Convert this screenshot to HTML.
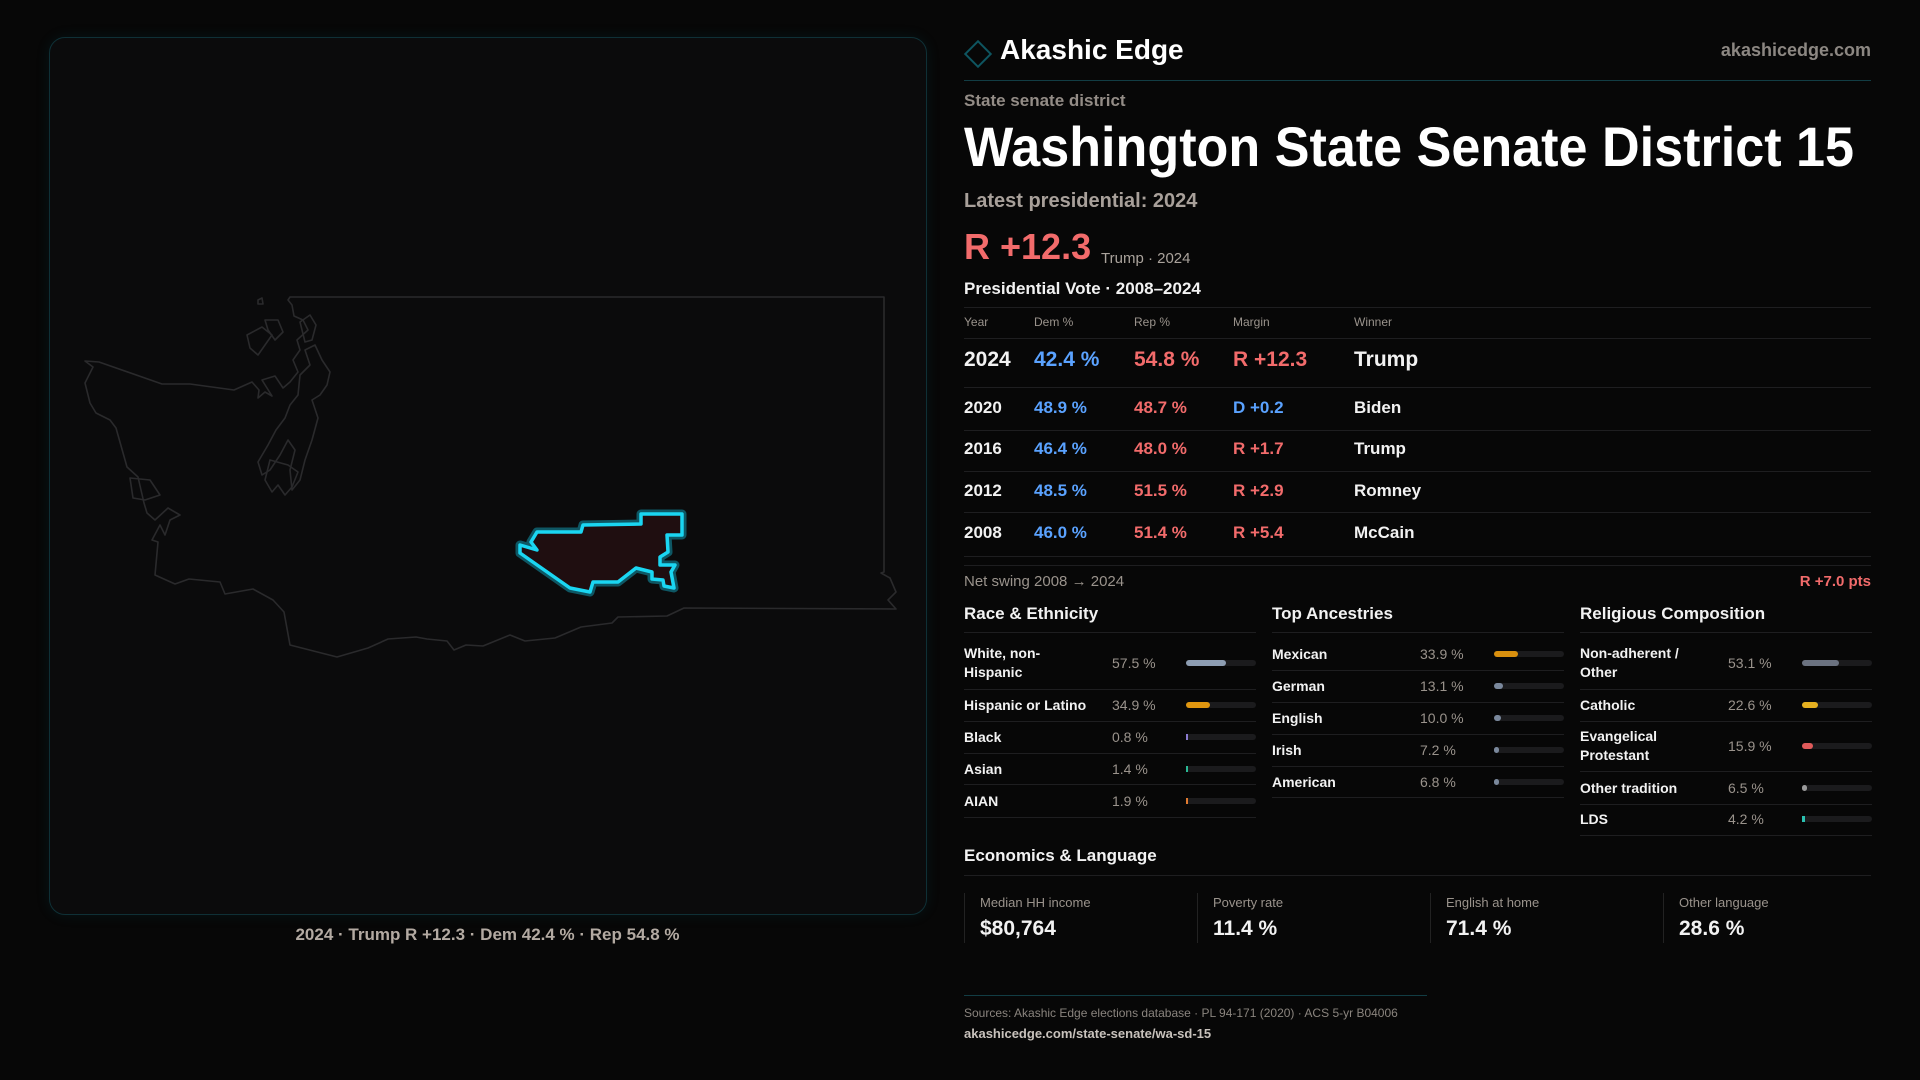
<!DOCTYPE html>
<html><head><meta charset="utf-8"><style>
*{margin:0;padding:0;box-sizing:border-box}
body{width:1920px;height:1080px;background:#070707;font-family:"Liberation Sans",sans-serif;color:#fff;position:relative;overflow:hidden}
.a{position:absolute;white-space:nowrap}
.g{color:#9a938c}
.w{color:#f2f2f2;font-weight:bold}
.r{color:#f26b6b}
.b{color:#5aa2ff}
.hl{position:absolute;height:1px;background:#1e1e20}
.card{position:absolute;top:893px;height:50px;border-left:1px solid #222}
</style></head><body>
<div class="a" style="left:49px;top:37px;width:878px;height:878px;border:1px solid #0f3036;border-radius:16px;background:#0b0b0c;box-shadow:0 0 14px rgba(20,120,140,0.12)">
<svg width="878" height="878" style="position:absolute;left:-1px;top:-1px">
<g transform="translate(-49,-37)" fill="none" stroke="#2a2a2c" stroke-width="1.6" stroke-linejoin="round">
<path d="M290,297 L884,297 L884,572 L881,573 L890,578 L896,592 L888,600 L896,609 L684,608 L667,616 L618,617 L612,623 L581,627 L555,638 L525,641 L510,635 L483,646 L466,645 L454,650 L447,641 L427,639 L416,637 L388,639 L368,648 L337,657 L290,645 L284,612 L273,600 L253,589 L225,594 L220,582 L189,579 L175,584 L155,575 L158,542 L152,540 L160,525 L165,535 L170,520 L180,515 L168,508 L155,520 L147,513 L144,503 L138,477 L127,467 L116,428 L110,420 L96,413 L90,403 L85,383 L93,367 L85,361 L99,362 L162,384 L190,384 L234,390 L252,382 L259,390 L258,398 L265,392 L272,396 L262,380 L275,376 L283,388 L290,382 L298,372 L293,360 L300,350 L297,340 L308,330 L303,320 L294,316 L292,305 L288,300 Z"/>
<path d="M300,375 L310,365 L305,350 L315,345 L322,360 L330,372 L327,385 L320,395 L312,400 L318,418 L312,440 L305,460 L300,480 L292,490 L290,470 L295,450 L288,440 L280,455 L270,470 L262,475 L258,462 L268,445 L276,430 L285,418 L290,405 L298,395 Z"/>
<path d="M270,460 L288,465 L298,472 L292,487 L285,495 L278,485 L272,492 L265,480 Z"/>
<path d="M247,335 L262,327 L272,335 L265,345 L258,355 L250,348 Z"/>
<path d="M265,320 L278,320 L283,332 L275,340 L268,330 Z"/>
<path d="M300,322 L310,315 L316,325 L312,340 L305,342 Z"/>
<path d="M130,478 L150,480 L160,495 L145,500 L133,498 Z"/>
<path d="M258,300 L262,298 L263,304 L258,304 Z"/>
</g>
<g transform="translate(-49,-37)">
<path d="M641,514 L682,514 L682,535 L667,535 L668,552 L660,557 L660,565 L675,565 L671,572 L674,588 L664,586 L663,580 L652,579 L652,572 L636,568 L618,582 L593,582 L590,592 L570,588 L520,553 L520,545 L537,550 L531,542 L537,532 L581,532 L583,525 L641,524 Z" fill="#1f0e10" stroke="#0f6b7a" stroke-width="9" stroke-linejoin="round" opacity="0.8"/>
<path d="M641,514 L682,514 L682,535 L667,535 L668,552 L660,557 L660,565 L675,565 L671,572 L674,588 L664,586 L663,580 L652,579 L652,572 L636,568 L618,582 L593,582 L590,592 L570,588 L520,553 L520,545 L537,550 L531,542 L537,532 L581,532 L583,525 L641,524 Z" fill="#1f0e10" stroke="#1ad6f2" stroke-width="3.5" stroke-linejoin="round"/>
</g></svg></div>
<div class="a" style="left:0;width:975px;text-align:center;top:925px;font-size:17px;color:#b3aaa2;font-weight:bold">2024 · Trump R +12.3 · Dem 42.4 % · Rep 54.8 %</div>

<div class="a" style="left:968px;top:44px;width:20px;height:20px;border:2px solid #0e5560;transform:rotate(45deg)"></div>
<div class="a" style="left:1000px;top:34px;font-size:28px;color:#fff;font-weight:bold">Akashic Edge</div>
<div class="a g" style="right:49px;top:40px;font-size:18px;font-weight:bold;color:#8c8782">akashicedge.com</div>
<div class="hl" style="left:964px;width:907px;top:80px;background:#123d44"></div>
<div class="a g" style="left:964px;top:91px;font-size:17px;font-weight:bold;color:#938c86">State senate district</div>
<svg class="a" style="left:964px;top:112px" width="900" height="66"><text x="0" y="54" font-family="Liberation Sans" font-weight="bold" font-size="56" fill="#fff" textLength="890" lengthAdjust="spacingAndGlyphs">Washington State Senate District 15</text></svg>
<div class="a g" style="left:964px;top:190px;font-size:20px;font-weight:bold;color:#a8a09a">Latest presidential: 2024</div>
<div class="a r" style="left:964px;top:226px;font-size:36px;font-weight:bold">R +12.3</div>
<div class="a" style="left:1101px;top:250px;font-size:15px;color:#aaa39c">Trump · 2024</div>
<div class="a w" style="left:964px;top:279px;font-size:17px">Presidential Vote · 2008–2024</div>
<div class="hl" style="left:964px;width:907px;top:307px"></div>
<div class="a g" style="left:964px;top:573px;font-size:15px">Net swing 2008 → 2024</div>
<div class="a r" style="right:49px;top:573px;font-size:15px;font-weight:bold">R +7.0 pts</div>

<div class="a w" style="left:964px;top:846px;font-size:17px">Economics &amp; Language</div>
<div class="hl" style="left:964px;width:907px;top:875px"></div>
<div class="card" style="left:964px;width:233px"><div class="a g" style="left:15px;top:2px;font-size:13px">Median HH income</div><div class="a w" style="left:15px;top:24px;font-size:21px">$80,764</div></div>
<div class="card" style="left:1197px;width:233px"><div class="a g" style="left:15px;top:2px;font-size:13px">Poverty rate</div><div class="a w" style="left:15px;top:24px;font-size:21px">11.4 %</div></div>
<div class="card" style="left:1430px;width:233px"><div class="a g" style="left:15px;top:2px;font-size:13px">English at home</div><div class="a w" style="left:15px;top:24px;font-size:21px">71.4 %</div></div>
<div class="card" style="left:1663px;width:208px"><div class="a g" style="left:15px;top:2px;font-size:13px">Other language</div><div class="a w" style="left:15px;top:24px;font-size:21px">28.6 %</div></div>
<div class="hl" style="left:964px;width:463px;top:995px;background:#123d44"></div>
<div class="a g" style="left:964px;top:1006px;font-size:12px;color:#8a847e">Sources: Akashic Edge elections database · PL 94-171 (2020) · ACS 5-yr B04006</div>
<div class="a" style="left:964px;top:1026px;font-size:13px;color:#c8c2bc;font-weight:bold">akashicedge.com/state-senate/wa-sd-15</div>

<script>
const years=["2024","2020","2016","2012","2008"];
const demPct=[42.4,48.9,46.4,48.5,46.0];
const repPct=[54.8,48.7,48.0,51.5,51.4];
const margins=[12.3,-0.2,1.7,2.9,5.4];
const winners=["Trump","Biden","Trump","Romney","McCain"];
const raceLabels=["White, non-<br>Hispanic","Hispanic or Latino","Black","Asian","AIAN"];
const raceValues=[57.5,34.9,0.8,1.4,1.9];
const ancLabels=["Mexican","German","English","Irish","American"];
const ancValues=[33.9,13.1,10.0,7.2,6.8];
const relLabels=["Non-adherent /<br>Other","Catholic","Evangelical<br>Protestant","Other tradition","LDS"];
const relValues=[53.1,22.6,15.9,6.5,4.2];
const raceColors=["#8d9db2","#e0960f","#8a7ad0","#2ab894","#e07a30"];
const ancColors=["#d9900e","#7a889c","#7a889c","#7a889c","#7a889c"];
const relColors=["#6b7280","#e5b020","#e05a5a","#9a9a9a","#2ac0b0"];

function mk(parent,html,style,cls){const d=document.createElement('div');d.className='a '+(cls||'');d.innerHTML=html;d.style.cssText=style;parent.appendChild(d);return d;}
const body=document.body;
const hx=[964,1034,1134,1233,1354];
["Year","Dem %","Rep %","Margin","Winner"].forEach((h,i)=>{
 const d=mk(body,h,`left:${hx[i]}px;top:315px;font-size:12px;`,'g');
 
 
});
const hr0=mk(body,'',`left:964px;width:907px;top:338px;`);hr0.className='hl';


const rowY=[361,408,449,491,533];
const lineY=[387,430,471,512,556];
years.forEach((y,i)=>{
 const fs=i===0?21:17;
 const top=rowY[i]-fs*0.6;
 const m=margins[i];
 const mt=(m>=0?'R +':'D +')+Math.abs(m).toFixed(1);
 const cells=[[y,'w'],[demPct[i].toFixed(1)+' %','b'],[repPct[i].toFixed(1)+' %','r'],[mt,m>=0?'r':'b'],[winners[i],'w']];
 cells.forEach((c,j)=>{
  const d=mk(body,c[0],`left:${hx[j]}px;top:${top}px;font-size:${fs}px;font-weight:bold;`,c[1]);
  
  
 });
 const l=mk(body,'',`left:964px;width:907px;top:${lineY[i]}px;`);l.className='hl';
 
 
});
const l2=mk(body,'',`left:964px;width:907px;top:565px;`);l2.className='hl';



function section(title,x,labels,values,colors,centers,lines,key){
 const t=mk(body,title,`left:${x}px;top:604px;font-size:17px;`,'w');
 
 
 const hl=mk(body,'',`left:${x}px;width:292px;top:632px;`);hl.className='hl';
 
 
 labels.forEach((lab,i)=>{
  const two=lab.includes('<br>');
  const lb=mk(body,lab,`left:${x}px;top:${centers[i]-(two?19:9)}px;font-size:14px;line-height:19px;`,'w');
  
  
  const v=mk(body,values[i].toFixed(1)+' %',`left:${x+148}px;top:${centers[i]-8}px;font-size:14px;color:#9a938c;`);
  
  
  const tr=mk(body,'',`left:${x+222}px;top:${centers[i]-3}px;width:70px;height:6px;border-radius:3px;background:#1b1b1d;`);
  
  
  const w=Math.max(2,70*values[i]/100);
  const bar=document.createElement('div');
  bar.style.cssText=`position:absolute;left:0;top:0;height:6px;width:${w}px;border-radius:${w<4?0:3}px;background:${colors[i]};`;
  
  
  tr.appendChild(bar);
  const rl=mk(body,'',`left:${x}px;width:292px;top:${lines[i]}px;`);rl.className='hl';
  
  
 });
}
section("Race & Ethnicity",964,raceLabels,raceValues,raceColors,[663,705,737,769,801],[689,721,753,784,817],'race');
section("Top Ancestries",1272,ancLabels,ancValues,ancColors,[654,686,718,750,782],[670,702,734,766,797],'ancestry');
section("Religious Composition",1580,relLabels,relValues,relColors,[663,705,746,788,819],[689,721,771,804,835],'religion');
</script>
</body></html>
